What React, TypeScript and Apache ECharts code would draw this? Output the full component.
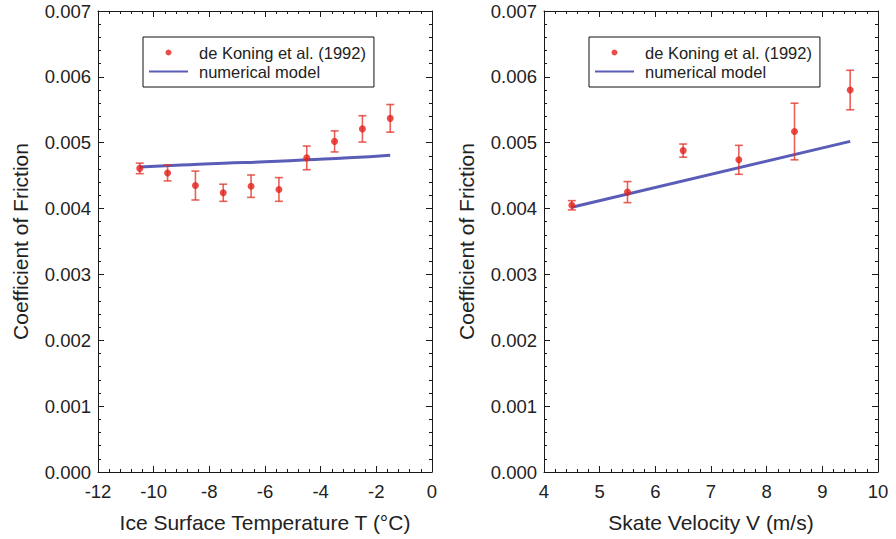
import React, { useEffect, useRef } from "react";
import * as echarts from "echarts";

// Left panel: friction vs ice surface temperature
const tempC = [-10.5, -9.5, -8.5, -7.5, -6.5, -5.5, -4.5, -3.5, -2.5, -1.5];
const tempMu = [0.00461, 0.00454, 0.00435, 0.00424, 0.00434, 0.00429, 0.00477, 0.00502, 0.00521, 0.00537];
const tempErr = [0.00008, 0.00012, 0.00022, 0.00013, 0.00017, 0.00018, 0.00018, 0.00016, 0.0002, 0.00021];
const modelT = [-10.5, -9, -7.5, -6, -4.5, -3, -1.5];
const modelTMu = [0.00463, 0.00466, 0.00469, 0.00471, 0.00474, 0.00477, 0.00481];

// Right panel: friction vs skate velocity
const velV = [4.5, 5.5, 6.5, 7.5, 8.5, 9.5];
const velMu = [0.00405, 0.00425, 0.00488, 0.00474, 0.00517, 0.0058];
const velErr = [0.00007, 0.00016, 0.0001, 0.00022, 0.00043, 0.0003];
const modelV = [4.5, 9.5];
const modelVMu = [0.00402, 0.00502];

const yTicks = ["0.000", "0.001", "0.002", "0.003", "0.004", "0.005", "0.006", "0.007"];
const dataName = "de Koning et al. (1992)";
const modelName = "numerical model";

const FONT = "Liberation Sans, Arial, Helvetica, sans-serif";
const AXIS_COLOR = "#1a1a1a";
const TEXT_COLOR = "#222";
const DOT_COLOR = "#e3221c";
const ERR_COLOR = "rgba(226,45,35,0.75)";
const LINE_COLOR = "#5a5db7";

const tickCommon = {
  axisLine: { show: true, onZero: false, lineStyle: { color: AXIS_COLOR, width: 1 } },
  axisTick: { show: true, inside: true, length: 6, lineStyle: { color: AXIS_COLOR, width: 1 } },
  minorTick: { show: true, splitNumber: 5, length: 3, lineStyle: { color: AXIS_COLOR, width: 1 } },
  splitLine: { show: false },
  minorSplitLine: { show: false },
};

function errorBarSeries(xs: number[], mus: number[], errs: number[], axisIdx: number) {
  const data = xs.map((x, i) => [x, mus[i] - errs[i], mus[i] + errs[i]]);
  return {
    type: "custom",
    xAxisIndex: axisIdx,
    yAxisIndex: axisIdx,
    silent: true,
    z: 3,
    data,
    renderItem: (params: any, api: any) => {
      const x = api.value(0);
      const lo = api.coord([x, api.value(1)]);
      const hi = api.coord([x, api.value(2)]);
      const cap = 4;
      const style = { stroke: ERR_COLOR, lineWidth: 1.6 };
      return {
        type: "group",
        children: [
          { type: "line", shape: { x1: lo[0], y1: lo[1], x2: hi[0], y2: hi[1] }, style },
          { type: "line", shape: { x1: lo[0] - cap, y1: lo[1], x2: lo[0] + cap, y2: lo[1] }, style },
          { type: "line", shape: { x1: hi[0] - cap, y1: hi[1], x2: hi[0] + cap, y2: hi[1] }, style },
        ],
      };
    },
  };
}

function legendAt(left: number) {
  return {
    left,
    top: 37,
    orient: "vertical",
    itemWidth: 39,
    itemHeight: 6,
    itemGap: 0,
    padding: [6, 8, 6, 5],
    borderColor: "#111",
    borderWidth: 1,
    selectedMode: false,
    textStyle: {
      fontFamily: FONT,
      fontSize: 16.5,
      color: TEXT_COLOR,
      lineHeight: 19,
      padding: [0, 0, 0, 6],
    },
    data: [
      { name: dataName, icon: "circle" },
      { name: modelName, itemStyle: { opacity: 0 } },
    ],
  };
}

export default function App() {
  const ref = useRef<HTMLDivElement>(null);

  useEffect(() => {
    if (!ref.current) return;
    const chart = echarts.init(ref.current, undefined, { renderer: "svg" });

    const grids = [
      { left: 98, top: 11, width: 334, height: 461 },
      { left: 544, top: 11, width: 334, height: 461 },
    ];

    const xBottom = (gi: number, min: number, max: number, interval: number, name: string) => ({
      gridIndex: gi,
      type: "value",
      position: "bottom",
      min,
      max,
      interval,
      name,
      nameLocation: "middle",
      nameGap: 40,
      nameTextStyle: { fontFamily: FONT, fontSize: 21, color: TEXT_COLOR },
      axisLabel: { show: true, margin: 10, fontFamily: FONT, fontSize: 18.5, color: TEXT_COLOR },
      ...tickCommon,
    });
    const xTop = (gi: number, min: number, max: number, interval: number) => ({
      gridIndex: gi,
      type: "value",
      position: "top",
      min,
      max,
      interval,
      axisLabel: { show: false },
      ...tickCommon,
    });
    const yLeft = (gi: number) => ({
      gridIndex: gi,
      type: "value",
      position: "left",
      min: 0,
      max: 0.007,
      interval: 0.001,
      name: "Coefficient of Friction",
      nameLocation: "middle",
      nameGap: 67,
      nameTextStyle: { fontFamily: FONT, fontSize: 21, color: TEXT_COLOR },
      axisLabel: {
        show: true,
        margin: 7,
        fontFamily: FONT,
        fontSize: 18.5,
        color: TEXT_COLOR,
        formatter: (v: number) => yTicks[Math.round(v / 0.001)] ?? v.toFixed(3),
      },
      ...tickCommon,
    });
    const yRight = (gi: number) => ({
      gridIndex: gi,
      type: "value",
      position: "right",
      min: 0,
      max: 0.007,
      interval: 0.001,
      axisLabel: { show: false },
      ...tickCommon,
    });

    chart.setOption({
      animation: false,
      backgroundColor: "#ffffff",
      grid: grids,
      legend: [legendAt(143), legendAt(589)],
      xAxis: [
        xBottom(0, -12, 0, 2, "Ice Surface Temperature T (°C)"),
        xBottom(1, 4, 10, 1, "Skate Velocity V (m/s)"),
        xTop(0, -12, 0, 2),
        xTop(1, 4, 10, 1),
      ],
      yAxis: [yLeft(0), yLeft(1), yRight(0), yRight(1)],
      series: [
        errorBarSeries(tempC, tempMu, tempErr, 0),
        {
          name: dataName,
          type: "scatter",
          xAxisIndex: 0,
          yAxisIndex: 0,
          symbol: "circle",
          symbolSize: 7,
          itemStyle: { color: DOT_COLOR },
          z: 4,
          data: tempC.map((x, i) => [x, tempMu[i]]),
        },
        {
          name: modelName,
          type: "line",
          xAxisIndex: 0,
          yAxisIndex: 0,
          symbol: "none",
          smooth: true,
          lineStyle: { color: LINE_COLOR, width: 3 },
          itemStyle: { color: LINE_COLOR },
          z: 2,
          data: modelT.map((x, i) => [x, modelTMu[i]]),
        },
        errorBarSeries(velV, velMu, velErr, 1),
        {
          name: dataName,
          type: "scatter",
          xAxisIndex: 1,
          yAxisIndex: 1,
          symbol: "circle",
          symbolSize: 7,
          itemStyle: { color: DOT_COLOR },
          z: 4,
          data: velV.map((x, i) => [x, velMu[i]]),
        },
        {
          name: modelName,
          type: "line",
          xAxisIndex: 1,
          yAxisIndex: 1,
          symbol: "none",
          lineStyle: { color: LINE_COLOR, width: 3 },
          itemStyle: { color: LINE_COLOR },
          z: 2,
          data: modelV.map((x, i) => [x, modelVMu[i]]),
        },
      ],
    });

    return () => chart.dispose();
  }, []);

  return (
    <div
      ref={ref}
      style={{ position: "fixed", left: 0, top: 0, width: 896, height: 539, background: "#fff" }}
    />
  );
}
